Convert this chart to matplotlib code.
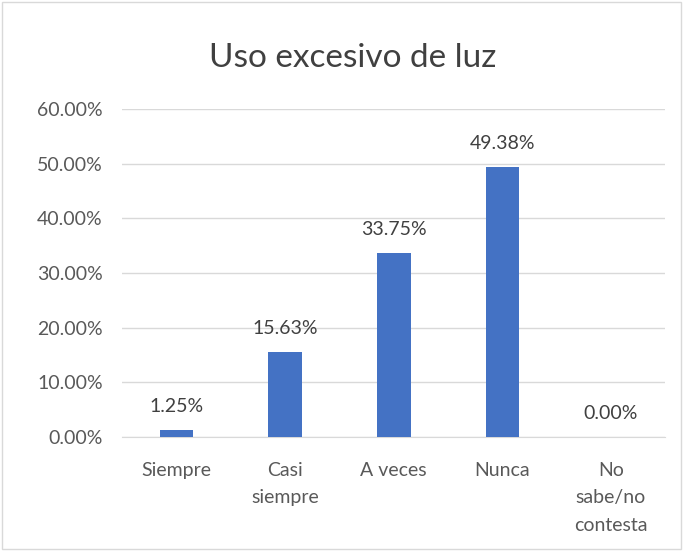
import matplotlib.pyplot as plt
import matplotlib.ticker as mtick
from matplotlib.patches import Rectangle

categories = ["Siempre", "Casi\nsiempre", "A veces", "Nunca", "No\nsabe/no\ncontesta"]
values = [0.0125, 0.1563, 0.3375, 0.4938, 0.0]
labels = ["1.25%", "15.63%", "33.75%", "49.38%", "0.00%"]

plt.rcParams['font.family'] = ['Lato', 'DejaVu Sans']

fig = plt.figure(figsize=(6.83, 5.51), dpi=100)
ax = fig.add_axes([0.179, 0.207, 0.795, 0.595])

x = range(len(categories))
ax.bar(x, values, width=0.31, color='#4472C4', zorder=3)

for xi, v, lab in zip(x, values, labels):
    ax.text(xi, v + 0.027, lab, ha='center', va='bottom', fontsize=14, color='#404040')

ax.set_ylim(0, 0.6)
ax.set_xlim(-0.5, len(categories) - 0.5)
ax.yaxis.set_major_formatter(mtick.PercentFormatter(1.0, decimals=2))
ax.set_yticks([0, 0.1, 0.2, 0.3, 0.4, 0.5, 0.6])
ax.grid(axis='y', color='#D9D9D9', linewidth=1, zorder=0)
ax.set_xticks(list(x))
ax.set_xticklabels(categories, fontsize=14, color='#595959', linespacing=1.75, va='top')
ax.tick_params(axis='y', labelsize=14, labelcolor='#595959', length=0, pad=14)
ax.tick_params(axis='x', length=0, pad=18)
for side in ['top', 'right', 'left']:
    ax.spines[side].set_visible(False)
ax.spines['bottom'].set_color('#D9D9D9')

fig.text(0.517, 0.895, "Uso excesivo de luz", ha='center', va='center', fontsize=24, color='#404040')

fig.patches.append(Rectangle((0.003, 0.003), 0.994, 0.994, transform=fig.transFigure,
                             fill=False, edgecolor='#D9D9D9', linewidth=1))

plt.savefig('out.png', dpi=100)
